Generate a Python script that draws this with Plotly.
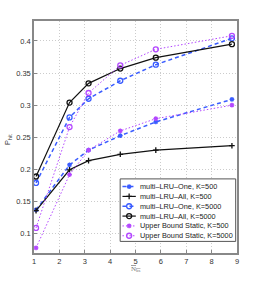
import plotly.graph_objects as go

# ---- data ----
x_vals = [1.08, 2.4, 3.15, 4.4, 5.8, 8.8]
one_500 = [0.137, 0.207, 0.230, 0.2525, 0.274, 0.309]
all_500 = [0.136, 0.1995, 0.2137, 0.2236, 0.230, 0.237]
one_5000 = [0.179, 0.281, 0.310, 0.338, 0.363, 0.404]
all_5000 = [0.189, 0.304, 0.334, 0.357, 0.374, 0.395]
ub_500 = [0.078, 0.192, 0.230, 0.260, 0.279, 0.300]
ub_5000 = [0.109, 0.266, 0.319, 0.362, 0.387, 0.408]

series_names = [
    "multi\u2013LRU\u2013One, K=500",
    "multi\u2013LRU\u2013All, K=500",
    "multi\u2013LRU\u2013One, K=5000",
    "multi\u2013LRU\u2013All, K=5000",
    "Upper Bound Static, K=500",
    "Upper Bound Static, K=5000",
]
series_values = [one_500, all_500, one_5000, all_5000, ub_500, ub_5000]

y_tickvals = [0.1, 0.15, 0.2, 0.25, 0.3, 0.35, 0.4]
x_tickvals = [1, 2, 3, 4, 5, 6, 7, 8, 9]
x_title = '<span style="text-decoration:overline">N<sub>bs</sub></span>'
y_title = "P<sub>hit</sub>"

# ---- styles ----
BLUE = "#3a5cff"
PURP = "#b347ff"
DASH = "4px,3px"
DOT = "1.5px,2px"
styles = [
    dict(color=BLUE, dash=DASH, width=1.5, symbol="asterisk-open", msize=4),
    dict(color="#111111", dash="solid", width=1.2, symbol="cross-thin-open", msize=4),
    dict(color=BLUE, dash=DASH, width=1.5, symbol="circle-open", msize=5),
    dict(color="#111111", dash="solid", width=1.2, symbol="circle-open", msize=5),
    dict(color=PURP, dash=DOT, width=1.0, symbol="asterisk-open", msize=4),
    dict(color=PURP, dash=DOT, width=1.0, symbol="circle-open", msize=5),
]


def marker_of(st):
    return dict(symbol=st["symbol"], size=st["msize"], color=st["color"],
                line=dict(color=st["color"], width=1.3))


fig = go.Figure()
for name, vals, st in zip(series_names, series_values, styles):
    fig.add_trace(go.Scatter(
        x=x_vals, y=vals, mode="lines+markers", name=name, showlegend=False,
        line=dict(color=st["color"], dash=st["dash"], width=st["width"]),
        marker=marker_of(st),
    ))

# ---- manual legend on overlay axes (0..1 fractions of plot area) ----
lx0, lx1, ly0, ly1 = 0.4245, 0.9936, 0.050, 0.3194
fig.add_trace(go.Scatter(
    x=[lx0, lx1, lx1, lx0, lx0], y=[ly0, ly0, ly1, ly1, ly0],
    xaxis="x2", yaxis="y2", mode="lines", fill="toself",
    fillcolor="white", line=dict(color="#555555", width=1),
    showlegend=False, hoverinfo="skip"))
row_top, row_step = 0.2863, 0.0424
sx0, sx1, tx = 0.4357, 0.5016, 0.5145
annotations = []
for i, (name, st) in enumerate(zip(series_names, styles)):
    yy = row_top - i * row_step
    fig.add_trace(go.Scatter(
        x=[sx0, sx1], y=[yy, yy], xaxis="x2", yaxis="y2", mode="lines",
        line=dict(color=st["color"], dash=st["dash"], width=st["width"]),
        showlegend=False, hoverinfo="skip"))
    fig.add_trace(go.Scatter(
        x=[(sx0 + sx1) / 2], y=[yy], xaxis="x2", yaxis="y2", mode="markers",
        marker=marker_of(st), showlegend=False, hoverinfo="skip"))
    annotations.append(dict(
        x=tx, y=yy, xref="x2", yref="y2", text=name, showarrow=False,
        xanchor="left", yanchor="middle",
        font=dict(family="Liberation Sans", size=7.3, color="#222222")))

# axis titles
annotations.append(dict(
    x=0.5, y=-0.071, xref="paper", yref="paper", text=x_title, showarrow=False,
    xanchor="center", yanchor="middle",
    font=dict(family="Liberation Serif", size=7, color="#777777")))
annotations.append(dict(
    x=-0.125, y=0.49, xref="paper", yref="paper", text=y_title, showarrow=False,
    xanchor="center", yanchor="middle", textangle=-90,
    font=dict(family="Liberation Sans", size=7.5, color="#333333")))

axis_common = dict(
    showline=True, linecolor="#888888", linewidth=1.5, mirror=True,
    showgrid=True, gridcolor="#cccccc", griddash="1px,2px", gridwidth=1,
    ticks="inside", ticklen=3, tickcolor="#888888", zeroline=False,
    automargin=False,
    tickfont=dict(family="Liberation Sans", size=7.5, color="#333333"),
)

fig.update_layout(
    width=262, height=286,
    margin=dict(l=33.7, r=25, t=20.7, b=32.7, autoexpand=False),
    paper_bgcolor="white", plot_bgcolor="white",
    xaxis=dict(range=[1, 9], tickvals=x_tickvals, **axis_common),
    yaxis=dict(range=[0.07, 0.431], tickvals=y_tickvals, **axis_common),
    xaxis2=dict(range=[0, 1], overlaying="x", anchor="y2", visible=False),
    yaxis2=dict(range=[0, 1], overlaying="y", anchor="x2", visible=False),
    annotations=annotations,
    showlegend=False,
)

fig.write_html("out.html", config={"displayModeBar": False},
               post_script="document.body.style.margin='0';")
